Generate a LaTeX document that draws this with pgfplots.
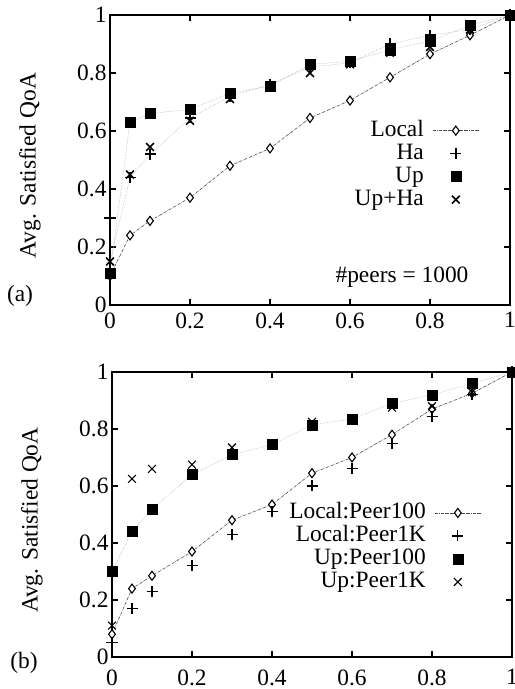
\documentclass[border=0pt]{standalone}
\usepackage{fontspec}
\setmainfont{Liberation Serif}
\usepackage{pgfplots}
\pgfplotsset{compat=1.18}

\newcommand{\bigfont}{\fontsize{23.5}{25}\selectfont}

\pgfplotsset{
  qoa/.style={
    scale only axis,
    width=400bp,
    xmin=0, xmax=1, ymin=0, ymax=1,
    xtick={0,0.2,0.4,0.6,0.8,1},
    ytick={0,0.2,0.4,0.6,0.8,1},
    tick align=inside,
    major tick length=6bp,
    axis line style={line width=1.6bp},
    tick style={line width=1.2bp, black},
    ticklabel style={font=\bigfont},
    xticklabel style={yshift=-4bp},
    /pgf/number format/assume math mode=true,
    ylabel={Avg. Satisfied QoA},
    ylabel style={font=\bigfont, at={(axis description cs:-0.2,0.48)}, anchor=center},
    clip=false,
    legend cell align=right,
    legend plot pos=right,
    legend style={draw=none, fill=none, font=\bigfont,
      nodes={inner sep=1bp, text height=15bp, text depth=4bp},
      row sep=2bp, column sep=8bp},
    legend image code/.code={
      \draw[mark repeat=2, mark phase=2, #1]
        plot coordinates {(0cm,0cm) (0.8cm,0cm) (1.6cm,0cm)};},
  },
  faint/.style={gray!70, densely dotted, line width=0.5bp, forget plot},
  loc/.style={black!70, densely dashdotted, line width=0.6bp,
    mark=diamond*, mark size=4.5bp, mark options={solid, fill=white, draw=black, line width=1.1bp}},
  hamk/.style={only marks, mark=+, mark size=5.5bp, mark options={black, line width=1.6bp}},
  upmk/.style={only marks, mark=square*, mark size=5bp, mark options={black, fill=black}},
  xmk/.style={only marks, mark=x, mark size=5.5bp, mark options={black, line width=1.6bp}},
}

\begin{document}
\begin{tikzpicture}
\useasboundingbox (0,0) rectangle (515bp,689bp);

% (a) top panel
\begin{axis}[qoa, height=290bp, at={(110bp,384bp)}, anchor=south west,
  legend style={at={(0.93,0.645)}, anchor=north east}]
  \addplot[faint] coordinates {(0,0.15)(0.05,0.44)(0.1,0.52)(0.2,0.645)(0.3,0.72)(0.4,0.76)(0.5,0.82)(0.6,0.835)(0.7,0.9)(0.8,0.93)(0.9,0.95)(1,1)};
  \addplot[faint] coordinates {(0,0.11)(0.05,0.63)(0.1,0.66)(0.2,0.675)(0.3,0.73)(0.4,0.755)(0.5,0.83)(0.6,0.84)(0.7,0.88)(0.8,0.91)(0.9,0.965)(1,1)};

  \addplot[loc] coordinates {(0,0.1)(0.05,0.24)(0.1,0.29)(0.2,0.37)(0.3,0.48)(0.4,0.54)(0.5,0.645)(0.6,0.705)(0.7,0.785)(0.8,0.865)(0.9,0.93)(1,1)};
  \addlegendentry{Local}
  \addplot[hamk] coordinates {(0,0.3)(0.05,0.44)(0.1,0.52)(0.2,0.645)(0.3,0.72)(0.4,0.76)(0.5,0.82)(0.6,0.835)(0.7,0.9)(0.8,0.93)(0.9,0.95)(1,1)};
  \addlegendentry{Ha}
  \addplot[upmk] coordinates {(0,0.11)(0.05,0.63)(0.1,0.66)(0.2,0.675)(0.3,0.73)(0.4,0.755)(0.5,0.83)(0.6,0.84)(0.7,0.88)(0.8,0.91)(0.9,0.965)(1,1)};
  \addlegendentry{Up}
  \addplot[xmk] coordinates {(0,0.15)(0.05,0.45)(0.1,0.545)(0.2,0.635)(0.3,0.71)(0.4,0.755)(0.5,0.80)(0.6,0.83)(0.7,0.87)(0.8,0.89)(0.9,0.95)(1,1)};
  \addlegendentry{Up+Ha}

  \node[font=\bigfont] at (axis cs:0.73,0.097) {\#peers = 1000};
  \node[font=\bigfont] at (axis description cs:-0.225,0.03) {(a)};
\end{axis}

% (b) bottom panel
\begin{axis}[qoa, height=285bp, at={(112bp,32bp)}, anchor=south west,
  xticklabel style={yshift=-5bp},
  legend style={at={(0.93,0.55)}, anchor=north east}]
  \addplot[faint] coordinates {(0,0.30)(0.05,0.44)(0.1,0.52)(0.2,0.64)(0.3,0.71)(0.4,0.745)(0.5,0.815)(0.6,0.835)(0.7,0.89)(0.8,0.92)(0.9,0.96)(1,1)};

  \addplot[loc] coordinates {(0,0.08)(0.05,0.24)(0.1,0.285)(0.2,0.37)(0.3,0.48)(0.4,0.535)(0.5,0.645)(0.6,0.70)(0.7,0.78)(0.8,0.87)(0.9,0.925)(1,1)};
  \addlegendentry{Local:Peer100}
  \addplot[hamk, mark options={line width=1.2bp}] coordinates {(0,0.05)(0.05,0.17)(0.1,0.23)(0.2,0.32)(0.3,0.43)(0.4,0.51)(0.5,0.60)(0.6,0.66)(0.7,0.75)(0.8,0.845)(0.9,0.92)(1,1)};
  \addlegendentry{Local:Peer1K}
  \addplot[upmk] coordinates {(0,0.30)(0.05,0.44)(0.1,0.52)(0.2,0.64)(0.3,0.71)(0.4,0.745)(0.5,0.815)(0.6,0.835)(0.7,0.89)(0.8,0.92)(0.9,0.96)(1,1)};
  \addlegendentry{Up:Peer100}
  \addplot[xmk, mark options={line width=1.2bp}] coordinates {(0,0.11)(0.05,0.625)(0.1,0.66)(0.2,0.675)(0.3,0.735)(0.4,0.75)(0.5,0.825)(0.6,0.835)(0.7,0.875)(0.8,0.88)(0.9,0.93)(1,1)};
  \addlegendentry{Up:Peer1K}

  \node[font=\bigfont] at (axis description cs:-0.22,-0.02) {(b)};
\end{axis}
\end{tikzpicture}
\end{document}
